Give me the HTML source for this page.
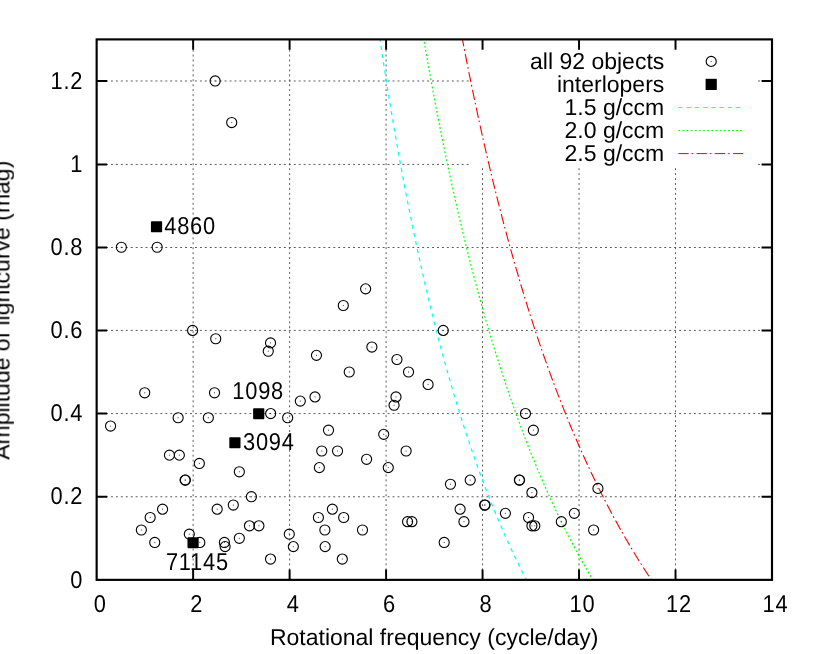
<!DOCTYPE html>
<html><head><meta charset="utf-8"><title>plot</title>
<style>html,body{margin:0;padding:0;background:#fff;width:830px;height:654px;overflow:hidden}</style></head>
<body>
<svg width="830" height="654" viewBox="0 0 830 654" style="position:absolute;left:0;top:0;font-family:'Liberation Sans',sans-serif;font-size:23.0px;text-rendering:geometricPrecision">
<rect width="830" height="654" fill="#fff"/>
<g stroke="#4a4a4a" stroke-width="0.9" stroke-dasharray="1.95 2.99" fill="none">
<path d="M101.10 496.77H762.00"/>
<path d="M101.10 413.57H762.00"/>
<path d="M101.10 330.42H762.00"/>
<path d="M101.10 247.50H762.00"/>
<path d="M101.10 164.45H469.00"/>
<path d="M758.12 164.45H762.00"/>
<path d="M101.10 80.97H469.00"/>
<path d="M758.12 80.97H762.00"/>
<path d="M193.13 580.17V49.40"/>
<path d="M289.61 580.17V49.40"/>
<path d="M386.09 580.17V49.40"/>
<path d="M482.56 580.17V168.00"/>
<path d="M579.04 580.17V168.00"/>
<path d="M675.52 580.17V168.00"/>
</g>
<path d="M379.97 39.40L381.80 51.63L383.63 63.63L385.46 75.40L387.29 86.95L389.12 98.28L390.95 109.40L392.78 120.32L394.61 131.03L396.44 141.55L398.27 151.88L400.10 162.02L401.93 171.99L403.75 181.77L405.58 191.38L407.41 200.82L409.24 210.10L411.07 219.21L412.90 228.17L414.73 236.97L416.56 245.62L418.39 254.13L420.22 262.49L422.05 270.71L423.88 278.79L425.71 286.74L427.54 294.56L429.37 302.25L431.20 309.81L433.03 317.25L434.86 324.57L436.69 331.77L438.51 338.85L440.34 345.83L442.17 352.69L444.00 359.44L445.83 366.09L447.66 372.64L449.49 379.08L451.32 385.43L453.15 391.67L454.98 397.82L456.81 403.88L458.64 409.85L460.47 415.72L462.30 421.51L464.13 427.21L465.96 432.83L467.79 438.37L469.62 443.82L471.44 449.19L473.27 454.49L475.10 459.71L476.93 464.85L478.76 469.92L480.59 474.92L482.42 479.85L484.25 484.70L486.08 489.49L487.91 494.22L489.74 498.87L491.57 503.46L493.40 507.99L495.23 512.46L497.06 516.86L498.89 521.21L500.72 525.49L502.55 529.72L504.38 533.89L506.20 538.01L508.03 542.07L509.86 546.08L511.69 550.03L513.52 553.93L515.35 557.79L517.18 561.59L519.01 565.34L520.84 569.04L522.67 572.70L524.50 576.31L526.33 579.87" stroke="#00ffff" stroke-width="1.25" stroke-dasharray="3.9 4.36" stroke-dashoffset="1.6" fill="none"/>
<path d="M423.80 39.40L425.91 51.63L428.03 63.63L430.14 75.40L432.25 86.95L434.36 98.28L436.48 109.40L438.59 120.32L440.70 131.03L442.81 141.55L444.93 151.88L447.04 162.02L449.15 171.99L451.26 181.77L453.38 191.38L455.49 200.82L457.60 210.10L459.71 219.21L461.83 228.17L463.94 236.97L466.05 245.62L468.16 254.13L470.28 262.49L472.39 270.71L474.50 278.79L476.61 286.74L478.73 294.56L480.84 302.25L482.95 309.81L485.06 317.25L487.18 324.57L489.29 331.77L491.40 338.85L493.51 345.83L495.63 352.69L497.74 359.44L499.85 366.09L501.96 372.64L504.08 379.08L506.19 385.43L508.30 391.67L510.41 397.82L512.53 403.88L514.64 409.85L516.75 415.72L518.86 421.51L520.98 427.21L523.09 432.83L525.20 438.37L527.31 443.82L529.43 449.19L531.54 454.49L533.65 459.71L535.76 464.85L537.88 469.92L539.99 474.92L542.10 479.85L544.21 484.70L546.33 489.49L548.44 494.22L550.55 498.87L552.66 503.46L554.78 507.99L556.89 512.46L559.00 516.86L561.11 521.21L563.23 525.49L565.34 529.72L567.45 533.89L569.56 538.01L571.68 542.07L573.79 546.08L575.90 550.03L578.01 553.93L580.13 557.79L582.24 561.59L584.35 565.34L586.46 569.04L588.58 572.70L590.69 576.31L592.80 579.87" stroke="#00ff00" stroke-width="1.2" stroke-dasharray="1.8 2.33" stroke-dashoffset="1.7" fill="none"/>
<path d="M462.42 39.40L464.78 51.63L467.14 63.63L469.50 75.40L471.86 86.95L474.23 98.28L476.59 109.40L478.95 120.32L481.31 131.03L483.67 141.55L486.04 151.88L488.40 162.02L490.76 171.99L493.12 181.77L495.48 191.38L497.84 200.82L500.21 210.10L502.57 219.21L504.93 228.17L507.29 236.97L509.65 245.62L512.02 254.13L514.38 262.49L516.74 270.71L519.10 278.79L521.46 286.74L523.82 294.56L526.19 302.25L528.55 309.81L530.91 317.25L533.27 324.57L535.63 331.77L538.00 338.85L540.36 345.83L542.72 352.69L545.08 359.44L547.44 366.09L549.80 372.64L552.17 379.08L554.53 385.43L556.89 391.67L559.25 397.82L561.61 403.88L563.98 409.85L566.34 415.72L568.70 421.51L571.06 427.21L573.42 432.83L575.78 438.37L578.15 443.82L580.51 449.19L582.87 454.49L585.23 459.71L587.59 464.85L589.96 469.92L592.32 474.92L594.68 479.85L597.04 484.70L599.40 489.49L601.76 494.22L604.13 498.87L606.49 503.46L608.85 507.99L611.21 512.46L613.57 516.86L615.94 521.21L618.30 525.49L620.66 529.72L623.02 533.89L625.38 538.01L627.74 542.07L630.11 546.08L632.47 550.03L634.83 553.93L637.19 557.79L639.55 561.59L641.92 565.34L644.28 569.04L646.64 572.70L649.00 576.31L651.36 579.87" stroke="#ff0000" stroke-width="1.12" stroke-dasharray="10.3 2.9 1.65 3.37" stroke-dashoffset="3.2" fill="none"/>
<g stroke="#000" stroke-width="1.95" fill="none" stroke-linecap="butt">
<rect x="96.65" y="39.4" width="675.35" height="540.47" stroke-width="2.15"/>
<path d="M96.65 496.77h10.45M772.0 496.77h-10.45"/>
<path d="M96.65 413.57h10.45M772.0 413.57h-10.45"/>
<path d="M96.65 330.42h10.45M772.0 330.42h-10.45"/>
<path d="M96.65 247.50h10.45M772.0 247.50h-10.45"/>
<path d="M96.65 164.45h10.45M772.0 164.45h-10.45"/>
<path d="M96.65 80.97h10.45M772.0 80.97h-10.45"/>
<path d="M193.13 579.87v-10.45M193.13 39.4v10.45"/>
<path d="M289.61 579.87v-10.45M289.61 39.4v10.45"/>
<path d="M386.09 579.87v-10.45M386.09 39.4v10.45"/>
<path d="M482.56 579.87v-10.45M482.56 39.4v10.45"/>
<path d="M579.04 579.87v-10.45M579.04 39.4v10.45"/>
<path d="M675.52 579.87v-10.45M675.52 39.4v10.45"/>
</g>
<g stroke="#000" stroke-width="1.1" fill="none">
<circle cx="199.33" cy="463.46" r="5.05"/>
<circle cx="239.34" cy="471.78" r="5.05"/>
<circle cx="185.12" cy="480.09" r="5.05"/>
<circle cx="185.36" cy="480.09" r="5.05"/>
<circle cx="251.39" cy="496.72" r="5.05"/>
<circle cx="162.56" cy="509.19" r="5.05"/>
<circle cx="217.17" cy="509.19" r="5.05"/>
<circle cx="233.31" cy="505.04" r="5.05"/>
<circle cx="150.17" cy="517.51" r="5.05"/>
<circle cx="141.35" cy="529.98" r="5.05"/>
<circle cx="154.75" cy="542.45" r="5.05"/>
<circle cx="189.31" cy="534.14" r="5.05"/>
<circle cx="199.82" cy="542.45" r="5.05"/>
<circle cx="224.40" cy="542.45" r="5.05"/>
<circle cx="225.12" cy="546.61" r="5.05"/>
<circle cx="239.34" cy="538.30" r="5.05"/>
<circle cx="249.46" cy="525.82" r="5.05"/>
<circle cx="258.91" cy="525.82" r="5.05"/>
<circle cx="270.53" cy="559.08" r="5.05"/>
<circle cx="289.28" cy="534.14" r="5.05"/>
<circle cx="293.32" cy="546.61" r="5.05"/>
<circle cx="319.35" cy="467.62" r="5.05"/>
<circle cx="366.59" cy="459.30" r="5.05"/>
<circle cx="388.28" cy="467.62" r="5.05"/>
<circle cx="332.37" cy="509.19" r="5.05"/>
<circle cx="318.39" cy="517.51" r="5.05"/>
<circle cx="343.69" cy="517.51" r="5.05"/>
<circle cx="324.89" cy="529.98" r="5.05"/>
<circle cx="362.49" cy="529.98" r="5.05"/>
<circle cx="325.14" cy="546.61" r="5.05"/>
<circle cx="342.30" cy="559.08" r="5.05"/>
<circle cx="407.56" cy="521.67" r="5.05"/>
<circle cx="411.90" cy="521.67" r="5.05"/>
<circle cx="444.19" cy="542.45" r="5.05"/>
<circle cx="450.46" cy="484.25" r="5.05"/>
<circle cx="470.22" cy="480.09" r="5.05"/>
<circle cx="460.10" cy="509.19" r="5.05"/>
<circle cx="463.95" cy="521.67" r="5.05"/>
<circle cx="484.68" cy="505.04" r="5.05"/>
<circle cx="485.02" cy="505.04" r="5.05"/>
<circle cx="505.40" cy="513.35" r="5.05"/>
<circle cx="519.38" cy="480.09" r="5.05"/>
<circle cx="519.53" cy="480.09" r="5.05"/>
<circle cx="531.91" cy="492.56" r="5.05"/>
<circle cx="528.54" cy="517.51" r="5.05"/>
<circle cx="531.91" cy="525.82" r="5.05"/>
<circle cx="534.81" cy="525.82" r="5.05"/>
<circle cx="561.32" cy="521.67" r="5.05"/>
<circle cx="574.33" cy="513.35" r="5.05"/>
<circle cx="593.61" cy="529.98" r="5.05"/>
<circle cx="597.95" cy="488.41" r="5.05"/>
<circle cx="215.72" cy="338.74" r="5.05"/>
<circle cx="144.72" cy="392.78" r="5.05"/>
<circle cx="214.52" cy="392.78" r="5.05"/>
<circle cx="178.13" cy="417.73" r="5.05"/>
<circle cx="208.35" cy="417.73" r="5.05"/>
<circle cx="110.55" cy="426.04" r="5.05"/>
<circle cx="169.45" cy="455.15" r="5.05"/>
<circle cx="179.33" cy="455.15" r="5.05"/>
<circle cx="270.53" cy="342.89" r="5.05"/>
<circle cx="268.26" cy="351.21" r="5.05"/>
<circle cx="316.46" cy="355.37" r="5.05"/>
<circle cx="371.89" cy="347.05" r="5.05"/>
<circle cx="396.95" cy="359.52" r="5.05"/>
<circle cx="349.24" cy="372.00" r="5.05"/>
<circle cx="315.01" cy="396.94" r="5.05"/>
<circle cx="300.31" cy="401.10" r="5.05"/>
<circle cx="395.99" cy="396.94" r="5.05"/>
<circle cx="394.06" cy="405.26" r="5.05"/>
<circle cx="270.67" cy="413.57" r="5.05"/>
<circle cx="287.68" cy="417.73" r="5.05"/>
<circle cx="328.51" cy="430.20" r="5.05"/>
<circle cx="383.70" cy="434.36" r="5.05"/>
<circle cx="321.76" cy="450.99" r="5.05"/>
<circle cx="337.52" cy="450.99" r="5.05"/>
<circle cx="406.11" cy="450.99" r="5.05"/>
<circle cx="408.52" cy="372.00" r="5.05"/>
<circle cx="428.09" cy="384.47" r="5.05"/>
<circle cx="525.46" cy="413.57" r="5.05"/>
<circle cx="533.36" cy="430.20" r="5.05"/>
<circle cx="443.23" cy="330.42" r="5.05"/>
<circle cx="121.35" cy="247.27" r="5.05"/>
<circle cx="157.16" cy="247.27" r="5.05"/>
<circle cx="192.59" cy="330.42" r="5.05"/>
<circle cx="365.62" cy="288.85" r="5.05"/>
<circle cx="343.31" cy="305.48" r="5.05"/>
<circle cx="215.14" cy="80.97" r="5.05"/>
<circle cx="231.72" cy="122.55" r="5.05"/>
<circle cx="711.2" cy="61.4" r="5.05"/>
</g>
<g fill="#000" opacity="0.75">
<rect x="198.83" y="462.96" width="1" height="1"/>
<rect x="238.84" y="471.28" width="1" height="1"/>
<rect x="184.62" y="479.59" width="1" height="1"/>
<rect x="184.86" y="479.59" width="1" height="1"/>
<rect x="250.89" y="496.22" width="1" height="1"/>
<rect x="162.06" y="508.69" width="1" height="1"/>
<rect x="216.67" y="508.69" width="1" height="1"/>
<rect x="232.81" y="504.54" width="1" height="1"/>
<rect x="149.67" y="517.01" width="1" height="1"/>
<rect x="140.85" y="529.48" width="1" height="1"/>
<rect x="154.25" y="541.95" width="1" height="1"/>
<rect x="188.81" y="533.64" width="1" height="1"/>
<rect x="199.32" y="541.95" width="1" height="1"/>
<rect x="223.90" y="541.95" width="1" height="1"/>
<rect x="224.62" y="546.11" width="1" height="1"/>
<rect x="238.84" y="537.80" width="1" height="1"/>
<rect x="248.96" y="525.32" width="1" height="1"/>
<rect x="258.41" y="525.32" width="1" height="1"/>
<rect x="270.03" y="558.58" width="1" height="1"/>
<rect x="288.78" y="533.64" width="1" height="1"/>
<rect x="292.82" y="546.11" width="1" height="1"/>
<rect x="318.85" y="467.12" width="1" height="1"/>
<rect x="366.09" y="458.80" width="1" height="1"/>
<rect x="387.78" y="467.12" width="1" height="1"/>
<rect x="331.87" y="508.69" width="1" height="1"/>
<rect x="317.89" y="517.01" width="1" height="1"/>
<rect x="343.19" y="517.01" width="1" height="1"/>
<rect x="324.39" y="529.48" width="1" height="1"/>
<rect x="361.99" y="529.48" width="1" height="1"/>
<rect x="324.64" y="546.11" width="1" height="1"/>
<rect x="341.80" y="558.58" width="1" height="1"/>
<rect x="407.06" y="521.17" width="1" height="1"/>
<rect x="411.40" y="521.17" width="1" height="1"/>
<rect x="443.69" y="541.95" width="1" height="1"/>
<rect x="449.96" y="483.75" width="1" height="1"/>
<rect x="469.72" y="479.59" width="1" height="1"/>
<rect x="459.60" y="508.69" width="1" height="1"/>
<rect x="463.45" y="521.17" width="1" height="1"/>
<rect x="484.18" y="504.54" width="1" height="1"/>
<rect x="484.52" y="504.54" width="1" height="1"/>
<rect x="504.90" y="512.85" width="1" height="1"/>
<rect x="518.88" y="479.59" width="1" height="1"/>
<rect x="519.03" y="479.59" width="1" height="1"/>
<rect x="531.41" y="492.06" width="1" height="1"/>
<rect x="528.04" y="517.01" width="1" height="1"/>
<rect x="531.41" y="525.32" width="1" height="1"/>
<rect x="534.31" y="525.32" width="1" height="1"/>
<rect x="560.82" y="521.17" width="1" height="1"/>
<rect x="573.83" y="512.85" width="1" height="1"/>
<rect x="593.11" y="529.48" width="1" height="1"/>
<rect x="597.45" y="487.91" width="1" height="1"/>
<rect x="215.22" y="338.24" width="1" height="1"/>
<rect x="144.22" y="392.28" width="1" height="1"/>
<rect x="214.02" y="392.28" width="1" height="1"/>
<rect x="177.63" y="417.23" width="1" height="1"/>
<rect x="207.85" y="417.23" width="1" height="1"/>
<rect x="110.05" y="425.54" width="1" height="1"/>
<rect x="168.95" y="454.65" width="1" height="1"/>
<rect x="178.83" y="454.65" width="1" height="1"/>
<rect x="270.03" y="342.39" width="1" height="1"/>
<rect x="267.76" y="350.71" width="1" height="1"/>
<rect x="315.96" y="354.87" width="1" height="1"/>
<rect x="371.39" y="346.55" width="1" height="1"/>
<rect x="396.45" y="359.02" width="1" height="1"/>
<rect x="348.74" y="371.50" width="1" height="1"/>
<rect x="314.51" y="396.44" width="1" height="1"/>
<rect x="299.81" y="400.60" width="1" height="1"/>
<rect x="395.49" y="396.44" width="1" height="1"/>
<rect x="393.56" y="404.76" width="1" height="1"/>
<rect x="270.17" y="413.07" width="1" height="1"/>
<rect x="287.18" y="417.23" width="1" height="1"/>
<rect x="328.01" y="429.70" width="1" height="1"/>
<rect x="383.20" y="433.86" width="1" height="1"/>
<rect x="321.26" y="450.49" width="1" height="1"/>
<rect x="337.02" y="450.49" width="1" height="1"/>
<rect x="405.61" y="450.49" width="1" height="1"/>
<rect x="408.02" y="371.50" width="1" height="1"/>
<rect x="427.59" y="383.97" width="1" height="1"/>
<rect x="524.96" y="413.07" width="1" height="1"/>
<rect x="532.86" y="429.70" width="1" height="1"/>
<rect x="442.73" y="329.92" width="1" height="1"/>
<rect x="120.85" y="246.77" width="1" height="1"/>
<rect x="156.66" y="246.77" width="1" height="1"/>
<rect x="192.09" y="329.92" width="1" height="1"/>
<rect x="365.12" y="288.35" width="1" height="1"/>
<rect x="342.81" y="304.98" width="1" height="1"/>
<rect x="214.64" y="80.47" width="1" height="1"/>
<rect x="231.22" y="122.05" width="1" height="1"/>
<rect x="710.7" y="60.9" width="1" height="1"/>
</g>
<g fill="#000">
<rect x="150.93" y="221.19" width="11.2" height="11.0" rx="0.8"/>
<rect x="253.12" y="408.27" width="11.2" height="11.0" rx="0.8"/>
<rect x="229.31" y="437.37" width="11.2" height="11.0" rx="0.8"/>
<rect x="187.47" y="537.15" width="11.2" height="11.0" rx="0.8"/>
<rect x="705.60" y="78.80" width="11.2" height="11.2"/>
</g>
<path d="M678.3 107.5H740" stroke="#00ffff" stroke-width="1.0" stroke-dasharray="3.9 4.36" fill="none"/>
<path d="M678.3 130.55H742.4" stroke="#00ff00" stroke-width="1.0" stroke-dasharray="1.8 2.33" fill="none"/>
<path d="M678.3 153.6H743" stroke="#ff0000" stroke-width="1.0" stroke-dasharray="10.3 2.9 1.65 3.37" fill="none"/>
<g fill="#000" opacity="0.999">
<text x="664.3" y="68.80" text-anchor="end">all 92 objects</text>
<text x="664.3" y="91.75" text-anchor="end">interlopers</text>
<text x="664.3" y="114.70" text-anchor="end">1.5 g/ccm</text>
<text x="664.3" y="137.65" text-anchor="end">2.0 g/ccm</text>
<text x="664.3" y="160.60" text-anchor="end">2.5 g/ccm</text>
<text transform="translate(83.26 587.62) scale(0.95 1.06)" letter-spacing="0.8" text-anchor="end">0</text>
<text transform="translate(83.26 504.47) scale(0.95 1.06)" letter-spacing="0.8" text-anchor="end">0.2</text>
<text transform="translate(83.26 421.32) scale(0.95 1.06)" letter-spacing="0.8" text-anchor="end">0.4</text>
<text transform="translate(83.26 338.17) scale(0.95 1.06)" letter-spacing="0.8" text-anchor="end">0.6</text>
<text transform="translate(83.26 255.02) scale(0.95 1.06)" letter-spacing="0.8" text-anchor="end">0.8</text>
<text transform="translate(83.26 171.87) scale(0.95 1.06)" letter-spacing="0.8" text-anchor="end">1</text>
<text transform="translate(83.26 88.72) scale(0.95 1.06)" letter-spacing="0.8" text-anchor="end">1.2</text>
<text transform="translate(100.13 611.50) scale(0.95 1.06)" letter-spacing="0.8" text-anchor="middle">0</text>
<text transform="translate(196.61 611.50) scale(0.95 1.06)" letter-spacing="0.8" text-anchor="middle">2</text>
<text transform="translate(293.09 611.50) scale(0.95 1.06)" letter-spacing="0.8" text-anchor="middle">4</text>
<text transform="translate(389.57 611.50) scale(0.95 1.06)" letter-spacing="0.8" text-anchor="middle">6</text>
<text transform="translate(486.04 611.50) scale(0.95 1.06)" letter-spacing="0.8" text-anchor="middle">8</text>
<text transform="translate(582.52 611.50) scale(0.95 1.06)" letter-spacing="0.8" text-anchor="middle">10</text>
<text transform="translate(679.00 611.50) scale(0.95 1.06)" letter-spacing="0.8" text-anchor="middle">12</text>
<text transform="translate(775.48 611.50) scale(0.95 1.06)" letter-spacing="0.8" text-anchor="middle">14</text>
<text x="434.2" y="645.45" text-anchor="middle">Rotational frequency (cycle/day)</text>
<text transform="translate(9.4 310.3) rotate(-90)" text-anchor="middle">Amplitude of lightcurve (mag)</text>
<text transform="translate(164.30 234.45) scale(0.95 1.06)" letter-spacing="0.8">4860</text>
<text transform="translate(258.18 399.45) scale(0.95 1.06)" letter-spacing="0.8" text-anchor="middle">1098</text>
<text transform="translate(243.00 450.25) scale(0.95 1.06)" letter-spacing="0.8">3094</text>
<text transform="translate(197.38 570.45) scale(0.95 1.06)" letter-spacing="0.8" text-anchor="middle">71145</text>
</g>
</svg>
</body></html>
